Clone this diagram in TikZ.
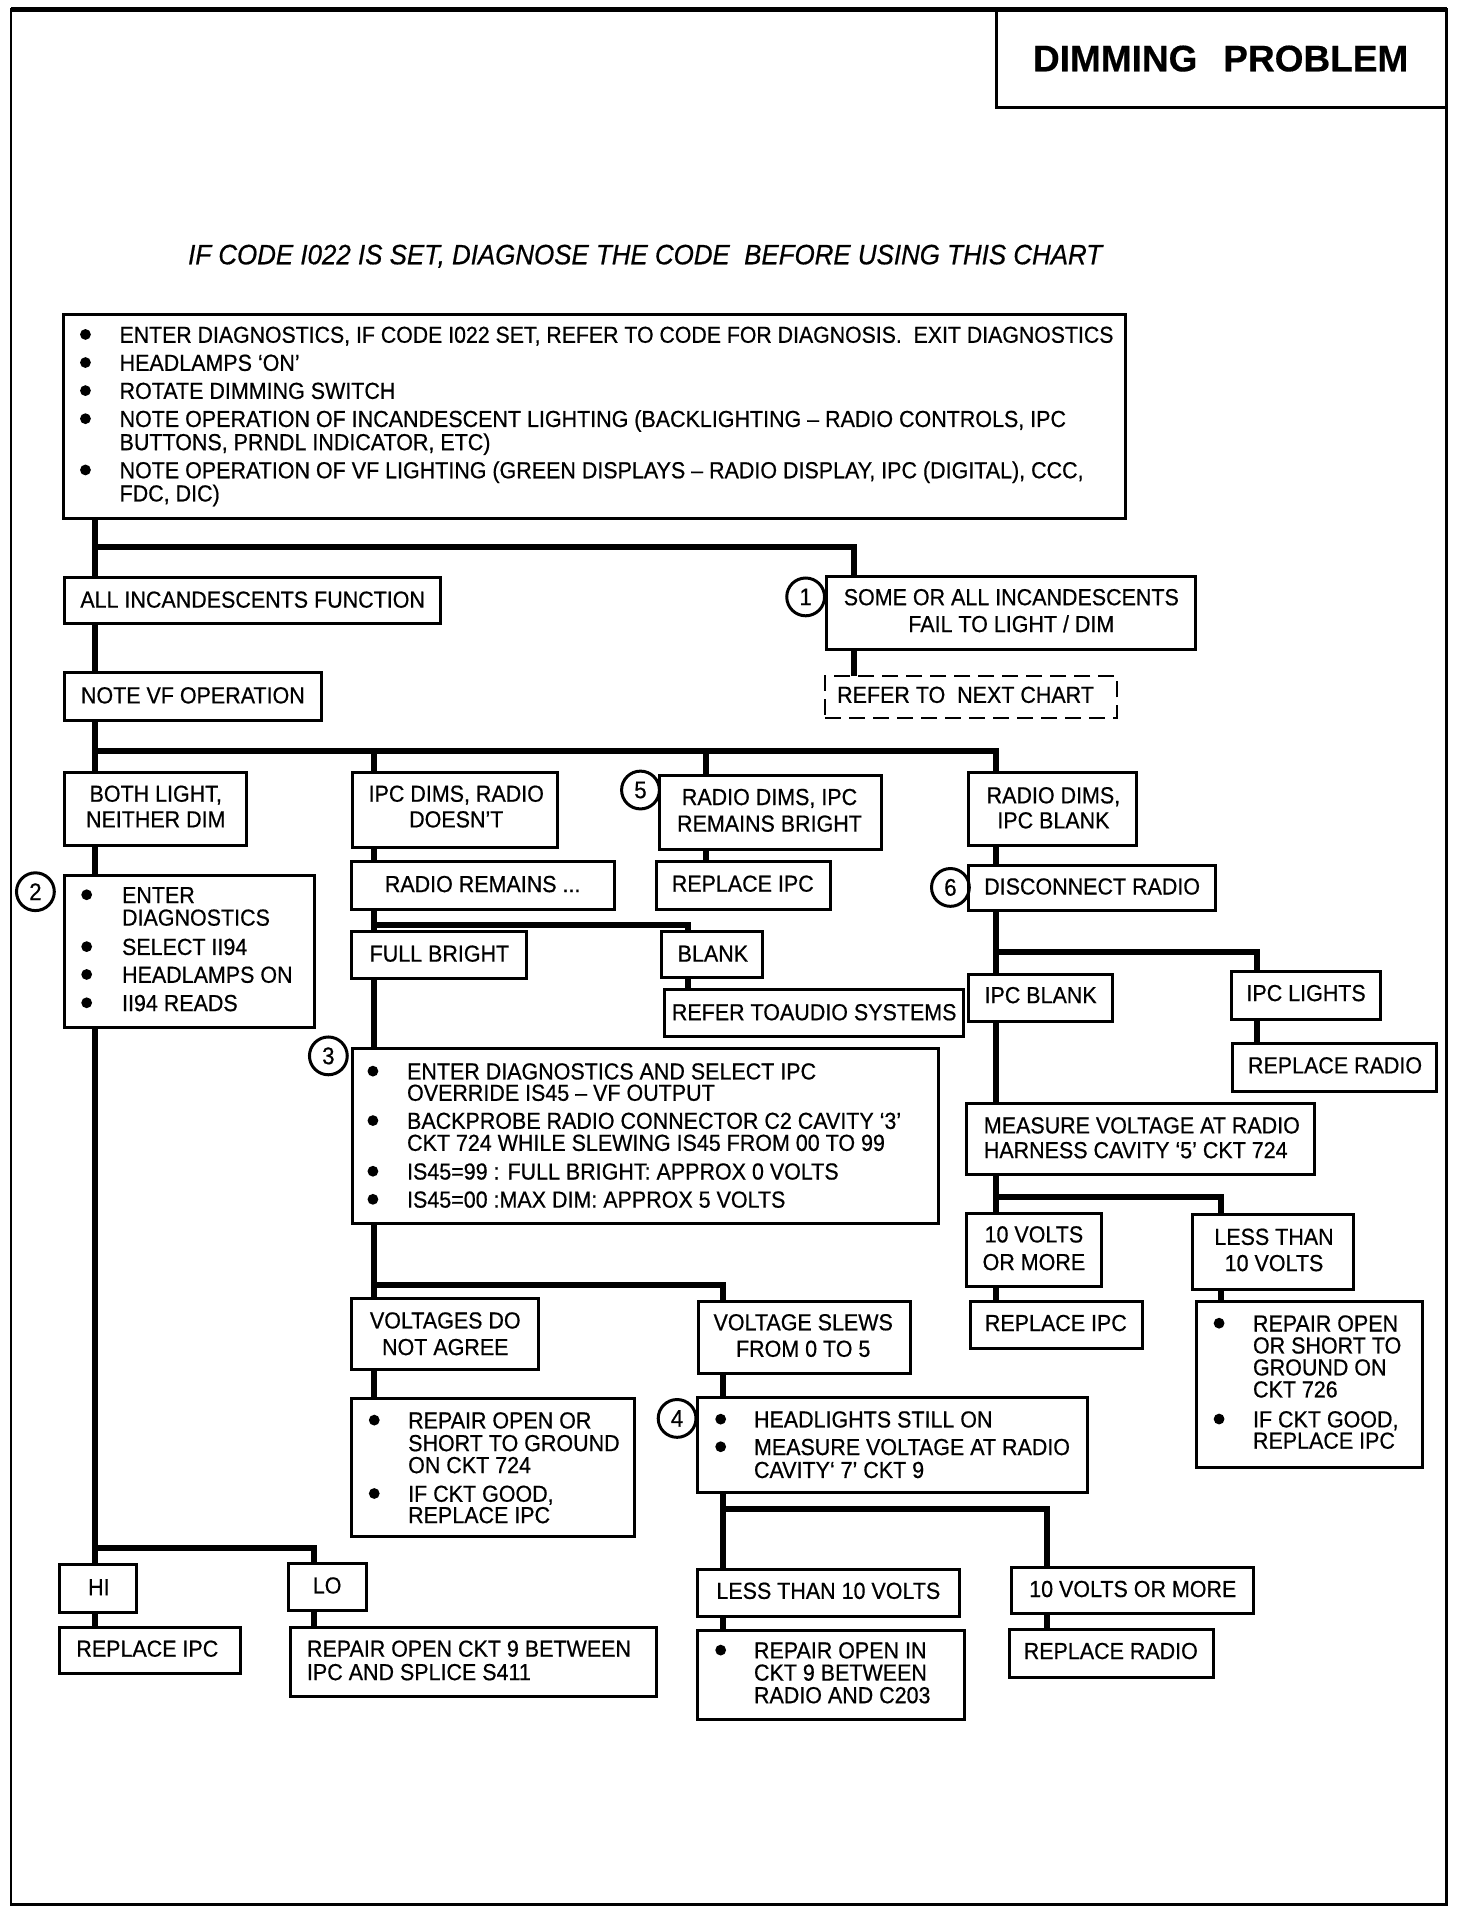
\documentclass[tikz,border=0pt]{standalone}
\usepackage{fontspec}
\setmainfont{Liberation Sans}[FakeStretch=0.925, FakeBold=0.6]
\newfontfamily\titlefont{Liberation Sans}[FakeBold=0.4]
\newlength\ux
\setlength\ux{0.6103pt}
\tikzset{
  boxst/.style={draw, rectangle, line width=1.5pt, inner sep=0pt, outer sep=0pt},
  dashbox/.style={boxst, line width=1.2pt, dash pattern=on 8pt off 4pt},
  conn/.style={line width=3pt, line join=miter},
  txt/.style={inner sep=0pt, outer sep=0pt, font=\fontsize{11.6}{11.3}\selectfont},
  bul/.style={circle, fill, inner sep=0pt, minimum size=5.4pt},
  num/.style={circle, draw, line width=1.5pt, inner sep=0pt, minimum size=18.9pt, font=\fontsize{12}{12}\selectfont},
}
\newcommand\Bx[6][boxst]{\node[#1, minimum width={(#5-#3)*\ux}, minimum height={(#6-#4)*\ux}] (#2) at ({(#3+#5)/2},{(#4+#6)/2}) {};}
\newcommand\TxtL[4]{\node[txt, anchor=base west] (#1) at (#2,{#3+6.8}) {#4};}
\newcommand\TxtC[4]{\node[txt, anchor=base] (#1) at (#2,{#3+6.8}) {#4};}
\newcommand\Bul[3]{\node[bul] (#1) at (#2,#3) {};}
\newcommand\Num[4]{\node[num] (#1) at (#2,#3) {#4};}
\begin{document}
\begin{tikzpicture}[x=0.6103pt, y=-0.6103pt]
\fill[white] (0,0) rectangle (1206,1568);
\useasboundingbox (0,0) rectangle (1206,1568);
% frame
\draw[line width=1.3pt] (9,7.5) rectangle (1185,1560);
\draw[line width=2.4pt] (9,7.5) -- (1185,7.5);
\Bx{title}{816}{7.5}{1185}{88}
\node[inner sep=0pt, font={\titlefont\fontsize{18.5}{20}\selectfont\bfseries}] (titletxt) at (1000,48) {DIMMING\hspace{0.7em}PROBLEM};
\node[inner sep=0pt, anchor=base, font={\fontsize{14}{16}\selectfont\itshape}] (sub) at (528.5,216.5) {IF CODE I022 IS SET, DIAGNOSE THE CODE\ \ BEFORE USING THIS CHART};

% boxes
\Bx{big}{52}{258}{922}{425}
\Bx{allinc}{53}{473}{361}{511}
\Bx{some}{677}{472}{979}{532}
\Bx[dashbox]{refer}{676}{554}{915}{588}
\Bx{notevf}{53}{551}{263}{590}
\Bx{both}{53}{633}{202}{693}
\Bx{ipcdims}{289}{633}{457}{694}
\Bx{radrem}{288}{706}{503}{745}
\Bx{rfive}{540}{635}{722}{696}
\Bx{repfive}{538}{706}{680}{745}
\Bx{rsix}{793}{633}{931}{693}
\Bx{disc}{793}{709}{996}{746}
\Bx{fullb}{288}{763}{431}{802}
\Bx{blank}{542}{763}{625}{801}
\Bx{audio}{544}{811}{789}{849}
\Bx{ipcblank}{793}{798}{911}{837}
\Bx{ipclights}{1009}{796}{1131}{835}
\Bx{repradA}{1010}{855}{1177}{894}
\Bx{boxtwo}{53}{717}{258}{842}
\Bx{boxthree}{289}{859}{769}{1002}
\Bx{meas}{792}{904}{1077}{962}
\Bx{tenA}{792}{994}{902}{1054}
\Bx{lessA}{977}{995}{1109}{1056}
\Bx{repipcB}{795}{1066}{936}{1105}
\Bx{repsix}{980}{1066}{1165}{1202}
\Bx{vdna}{288}{1064}{441}{1122}
\Bx{vslew}{572}{1066}{746}{1125}
\Bx{repfour}{288}{1146}{520}{1259}
\Bx{boxfour}{571}{1145}{891}{1223}
\Bx{lessB}{571}{1286}{786}{1324}
\Bx{tenB}{829}{1284}{1027}{1322}
\Bx{repthree}{571}{1336}{790}{1409}
\Bx{repradB}{827}{1335}{994}{1374}
\Bx{hi}{49}{1282}{112}{1321}
\Bx{lo}{236}{1281}{300}{1319}
\Bx{repipcC}{49}{1333}{197}{1371}
\Bx{repone}{238}{1333}{538}{1390}

% numbered circles
\Num{cone}{660}{489}{1}
\Num{ctwo}{29}{730.5}{2}
\Num{cthree}{269}{865}{3}
\Num{cfour}{554.7}{1162}{4}
\Num{cfive}{524.7}{647.2}{5}
\Num{csix}{778.6}{727}{6}

% column / junction coordinates
\coordinate (XA) at (78,0);
\coordinate (XS) at (700,0);
\coordinate (XB) at (306,0);
\coordinate (X5) at (578,0);
\coordinate (X6) at (816,0);
\coordinate (XBL) at (564,0);
\coordinate (XV) at (592,0);
\coordinate (XL) at (1000,0);
\coordinate (XIL) at (1030,0);
\coordinate (XLO) at (257,0);
\coordinate (XRR) at (858,0);
\coordinate (J1) at (78,448);
\coordinate (J2) at (78,615);
\coordinate (J3) at (306,758);
\coordinate (J4) at (816,780);
\coordinate (J5) at (816,981);
\coordinate (J6) at (306,1053);
\coordinate (J7) at (592,1236);
\coordinate (J8) at (78,1268);

% connectors
\draw[conn] (big.south -| XA) -- (allinc.north -| XA);
\draw[conn] (J1) -| (some.north -| XS);
\draw[conn] (some.south -| XS) -- (refer.north -| XS);
\draw[conn] (allinc.south -| XA) -- (notevf.north -| XA);
\draw[conn] (notevf.south -| XA) -- (both.north -| XA);
\draw[conn] (J2) -| (rsix.north -| X6);
\draw[conn] (J2 -| XB) -- (ipcdims.north -| XB);
\draw[conn] (J2 -| X5) -- (rfive.north -| X5);
\draw[conn] (both.south -| XA) -- (boxtwo.north -| XA);
\draw[conn] (boxtwo.south -| XA) -- (hi.north -| XA);
\draw[conn] (J8) -| (lo.north -| XLO);
\draw[conn] (hi.south -| XA) -- (repipcC.north -| XA);
\draw[conn] (lo.south -| XLO) -- (repone.north -| XLO);
\draw[conn] (ipcdims.south -| XB) -- (radrem.north -| XB);
\draw[conn] (radrem.south -| XB) -- (fullb.north -| XB);
\draw[conn] (J3) -| (blank.north -| XBL);
\draw[conn] (blank.south -| XBL) -- (audio.north -| XBL);
\draw[conn] (fullb.south -| XB) -- (boxthree.north -| XB);
\draw[conn] (boxthree.south -| XB) -- (vdna.north -| XB);
\draw[conn] (J6) -| (vslew.north -| XV);
\draw[conn] (vdna.south -| XB) -- (repfour.north -| XB);
\draw[conn] (vslew.south -| XV) -- (boxfour.north -| XV);
\draw[conn] (boxfour.south -| XV) -- (lessB.north -| XV);
\draw[conn] (J7) -| (tenB.north -| XRR);
\draw[conn] (lessB.south -| XV) -- (repthree.north -| XV);
\draw[conn] (tenB.south -| XRR) -- (repradB.north -| XRR);
\draw[conn] (rfive.south -| X5) -- (repfive.north -| X5);
\draw[conn] (rsix.south -| X6) -- (disc.north -| X6);
\draw[conn] (disc.south -| X6) -- (ipcblank.north -| X6);
\draw[conn] (J4) -| (ipclights.north -| XIL);
\draw[conn] (ipclights.south -| XIL) -- (repradA.north -| XIL);
\draw[conn] (ipcblank.south -| X6) -- (meas.north -| X6);
\draw[conn] (meas.south -| X6) -- (tenA.north -| X6);
\draw[conn] (J5) -| (lessA.north -| XL);
\draw[conn] (tenA.south -| X6) -- (repipcB.north -| X6);
\draw[conn] (lessA.south -| XL) -- (repsix.north -| XL);

% big box text
\Bul{bb1}{70}{274} \TxtL{tb1}{98}{274}{\fontsize{11.5}{11.3}\selectfont ENTER DIAGNOSTICS, IF CODE I022 SET, REFER TO CODE FOR DIAGNOSIS.\ \ EXIT DIAGNOSTICS}
\Bul{bb2}{70}{297} \TxtL{tb2}{98}{297}{HEADLAMPS ‘ON’}
\Bul{bb3}{70}{320} \TxtL{tb3}{98}{320}{ROTATE DIMMING SWITCH}
\Bul{bb4}{70}{343} \TxtL{tb4}{98}{343}{NOTE OPERATION OF INCANDESCENT LIGHTING (BACKLIGHTING -- RADIO CONTROLS, IPC}
\TxtL{tb4b}{98}{362}{BUTTONS, PRNDL INDICATOR, ETC)}
\Bul{bb5}{70}{385} \TxtL{tb5}{98}{385}{NOTE OPERATION OF VF LIGHTING (GREEN DISPLAYS -- RADIO DISPLAY, IPC (DIGITAL), CCC,}
\TxtL{tb5b}{98}{404}{FDC, DIC)}

% box 2
\Bul{b21}{71}{733} \TxtL{t21}{100}{733}{ENTER}
\TxtL{t21b}{100}{751.5}{DIAGNOSTICS}
\Bul{b22}{71}{775.5} \TxtL{t22}{100}{775.5}{SELECT II94}
\Bul{b23}{71}{798.3} \TxtL{t23}{100}{798.3}{HEADLAMPS ON}
\Bul{b24}{71}{821.5} \TxtL{t24}{100}{821.5}{II94 READS}

% box 3
\Bul{b31}{305.5}{877.5} \TxtL{t31}{333.5}{877.5}{ENTER DIAGNOSTICS AND SELECT IPC}
\TxtL{t31b}{333.5}{895}{OVERRIDE IS45 -- VF OUTPUT}
\Bul{b32}{305.5}{918} \TxtL{t32}{333.5}{918}{BACKPROBE RADIO CONNECTOR C2 CAVITY ‘3’}
\TxtL{t32b}{333.5}{936}{CKT 724 WHILE SLEWING IS45 FROM 00 TO 99}
\Bul{b33}{305.5}{959.5} \TxtL{t33}{333.5}{959.5}{IS45=99 : FULL BRIGHT: APPROX 0 VOLTS}
\Bul{b34}{305.5}{982.5} \TxtL{t34}{333.5}{982.5}{IS45=00 :MAX DIM: APPROX 5 VOLTS}

% repair 724
\Bul{b41}{306.6}{1163.4} \TxtL{t41}{334.4}{1163.4}{REPAIR OPEN OR}
\TxtL{t41b}{334.4}{1182}{SHORT TO GROUND}
\TxtL{t41c}{334.4}{1200}{ON CKT 724}
\Bul{b42}{306.6}{1223.5} \TxtL{t42}{334.4}{1223.5}{IF CKT GOOD,}
\TxtL{t42b}{334.4}{1241}{REPLACE IPC}

% box 4
\Bul{b51}{590.4}{1162.6} \TxtL{t51}{617.7}{1162.6}{HEADLIGHTS STILL ON}
\Bul{b52}{590.4}{1185.2} \TxtL{t52}{617.7}{1185.2}{MEASURE VOLTAGE AT RADIO}
\TxtL{t52b}{617.7}{1204}{CAVITY‘ 7’ CKT 9}

% repair C203
\Bul{b61}{590.4}{1351.8} \TxtL{t61}{617.7}{1351.8}{REPAIR OPEN IN}
\TxtL{t61b}{617.7}{1370}{CKT 9 BETWEEN}
\TxtL{t61c}{617.7}{1388.5}{RADIO AND C203}

% repair 726
\Bul{b71}{998.7}{1084} \TxtL{t71}{1026.5}{1084}{REPAIR OPEN}
\TxtL{t71b}{1026.5}{1102}{OR SHORT TO}
\TxtL{t71c}{1026.5}{1120}{GROUND ON}
\TxtL{t71d}{1026.5}{1138}{CKT 726}
\Bul{b72}{998.7}{1162.5} \TxtL{t72}{1026.5}{1162.5}{IF CKT GOOD,}
\TxtL{t72b}{1026.5}{1180}{REPLACE IPC}

% measure
\TxtL{tm1}{806}{921.7}{MEASURE VOLTAGE AT RADIO}
\TxtL{tm2}{806}{942}{HARNESS CAVITY ‘5’ CKT 724}
% repair S411
\TxtL{tr1}{251.5}{1350.4}{REPAIR OPEN CKT 9 BETWEEN}
\TxtL{tr2}{251.5}{1369.6}{IPC AND SPLICE S411}

% centred texts
\TxtC{tallinc}{207}{491}{ALL INCANDESCENTS FUNCTION}
\TxtC{tsome}{828.5}{489}{SOME OR ALL INCANDESCENTS}
\TxtC{tsomeb}{828.5}{511}{FAIL TO LIGHT / DIM}
\TxtC{trefer}{791}{569}{REFER TO\ \ NEXT CHART}
\TxtC{tnotevf}{158}{569.4}{NOTE VF OPERATION}
\TxtC{tboth}{127.6}{650}{BOTH LIGHT,}
\TxtC{tbothb}{127.6}{671}{NEITHER DIM}
\TxtC{tipcd}{373.8}{650}{IPC DIMS, RADIO}
\TxtC{tipcdb}{373.8}{671}{DOESN’T}
\TxtC{tradrem}{395.4}{724}{RADIO REMAINS ...}
\TxtC{trfive}{630.4}{652.7}{RADIO DIMS, IPC}
\TxtC{trfiveb}{630.4}{674.5}{REMAINS BRIGHT}
\TxtC{trepfive}{608.5}{723.7}{REPLACE IPC}
\TxtC{trsix}{863}{651.3}{RADIO DIMS,}
\TxtC{trsixb}{863}{671.8}{IPC BLANK}
\TxtC{tdisc}{894.7}{726}{DISCONNECT RADIO}
\TxtC{tfullb}{360}{781}{FULL BRIGHT}
\TxtC{tblank}{584}{781}{BLANK}
\TxtC{taudio}{667}{829}{REFER TOAUDIO SYSTEMS}
\TxtC{tipcblank}{852.5}{815}{IPC BLANK}
\TxtC{tipclights}{1070}{813.3}{IPC LIGHTS}
\TxtC{trepradA}{1093.7}{872.5}{REPLACE RADIO}
\TxtC{ttenA}{847}{1011}{10 VOLTS}
\TxtC{ttenAb}{847}{1033.7}{OR MORE}
\TxtC{tlessA}{1043.7}{1013}{LESS THAN}
\TxtC{tlessAb}{1043.7}{1034.5}{10 VOLTS}
\TxtC{trepipcB}{865}{1083.6}{REPLACE IPC}
\TxtC{tvdna}{364.8}{1081.5}{VOLTAGES DO}
\TxtC{tvdnab}{364.8}{1103.3}{NOT AGREE}
\TxtC{tvslew}{658}{1083}{VOLTAGE SLEWS}
\TxtC{tvslewb}{658}{1104.7}{FROM 0 TO 5}
\TxtC{tlessB}{678.6}{1303}{LESS THAN 10 VOLTS}
\TxtC{ttenB}{928}{1301.5}{10 VOLTS OR MORE}
\TxtC{trepradB}{910}{1352.3}{REPLACE RADIO}
\TxtC{thi}{81}{1300}{HI}
\TxtC{tlo}{268}{1298.6}{LO}
\TxtC{trepipcC}{120.7}{1350.4}{REPLACE IPC}
\end{tikzpicture}
\end{document}
